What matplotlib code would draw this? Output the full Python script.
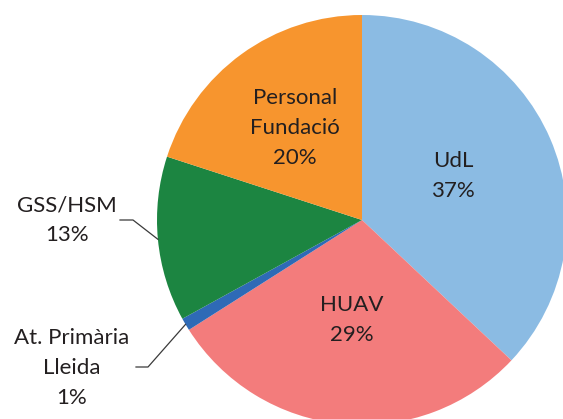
import numpy as np
import matplotlib.pyplot as plt

labels = ['UdL', 'HUAV', 'At. Primària\nLleida', 'GSS/HSM', 'Personal\nFundació']
values = [37, 29, 1, 13, 20]
colors = ['#8BBBE3', '#F37C7C', '#2E6AB6', '#1C8541', '#F7952E']

W, H = 563, 419
cx, cy, R = 362, 220, 205   # pie centre / radius in pixels

def px(x, y):
    # pixel (from top-left) -> data coords, radius 1 = R px
    return (x - cx) / R, (cy - y) / R

plt.rcParams['font.family'] = ['Lato', 'DejaVu Sans']
fig = plt.figure(figsize=(W / 100, H / 100), dpi=100)
ax = fig.add_axes([0, 0, 1, 1])
wedges, _ = ax.pie(values, colors=colors, startangle=90, counterclock=False,
                   radius=1, center=(0, 0), wedgeprops=dict(linewidth=0))
ax.set_xlim(px(0, 0)[0], px(W, 0)[0])
ax.set_ylim(px(0, H)[1], px(0, 0)[1])
ax.set_aspect('equal')
ax.axis('off')

tc = '#231F20'
fs = 16
ls = 1.6
# labels inside the slices
inside = {0: (453, 176), 1: (352, 320), 4: (295, 128)}
for i, (x, y) in inside.items():
    ax.text(*px(x, y), f'{labels[i]}\n{values[i]}%', ha='center', va='center',
            fontsize=fs, color=tc, linespacing=ls)

# labels outside with leader lines
outside = {3: ((67, 220), (120, 220), (133, 220)),
           2: ((72, 368), (136, 367), (148, 367))}
for i, ((x, y), (x0, y0), (x1, y1)) in outside.items():
    ax.text(*px(x, y), f'{labels[i]}\n{values[i]}%', ha='center', va='center',
            fontsize=fs, color=tc, linespacing=ls)
    w = wedges[i]
    mid = np.deg2rad((w.theta1 + w.theta2) / 2)
    tip = (np.cos(mid) * 1.0, np.sin(mid) * 1.0)
    a, b = px(x0, y0), px(x1, y1)
    ax.plot([a[0], b[0], tip[0]], [a[1], b[1], tip[1]], color='#3a3a3a', lw=0.9)

fig.savefig('out.png', dpi=100)
